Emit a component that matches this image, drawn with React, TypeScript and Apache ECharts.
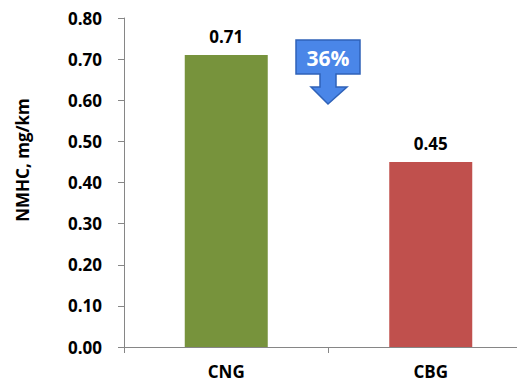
import React, { useEffect, useRef } from "react";
import * as echarts from "echarts";

const categories = ["CNG", "CBG"];
const values = [0.71, 0.45];
const barColors = ["#77933C", "#C0504D"];
const yTicks = { min: 0, max: 0.8, interval: 0.1 };
const axisTitle = "NMHC, mg/km";
const reductionLabel = "36%";

const FONT = "'Open Sans', 'Liberation Sans', sans-serif";

export default function App() {
  const ref = useRef<HTMLDivElement>(null);
  useEffect(() => {
    if (!ref.current) return;
    const chart = echarts.init(ref.current, null, { renderer: "svg" });
    chart.setOption({
      animation: false,
      backgroundColor: "#ffffff",
      grid: { left: 124, top: 18, width: 409, height: 329, containLabel: false, outerBoundsMode: "none" },
      xAxis: {
        type: "category",
        data: categories,
        axisLine: { show: true, lineStyle: { color: "#868686", width: 1 } },
        axisTick: { show: true, alignWithLabel: false, length: 6, lineStyle: { color: "#868686" } },
        axisLabel: { color: "#000", fontWeight: "bold", fontSize: 17, fontFamily: FONT, margin: 16 },
      },
      yAxis: {
        type: "value",
        min: yTicks.min,
        max: yTicks.max,
        interval: yTicks.interval,
        axisLine: { show: true, lineStyle: { color: "#868686", width: 1 } },
        axisTick: { show: true, length: 6, lineStyle: { color: "#868686" } },
        splitLine: { show: false },
        axisLabel: {
          color: "#000",
          fontWeight: "bold",
          fontSize: 17,
          fontFamily: FONT,
          margin: 22,
          formatter: (v: number) => v.toFixed(2),
        },
      },
      series: [
        {
          type: "bar",
          barWidth: 83,
          data: values.map((v, i) => ({ value: v, itemStyle: { color: barColors[i] } })),
          label: {
            show: true,
            position: "top",
            distance: 10,
            color: "#000",
            fontWeight: "bold",
            fontSize: 17,
            fontFamily: FONT,
            formatter: (p: any) => Number(p.value).toFixed(2),
          },
        },
      ],
      graphic: [
        {
          type: "text",
          x: 22,
          y: 160,
          rotation: Math.PI / 2,
          style: {
            text: axisTitle,
            fill: "#000",
            font: `bold 17px ${FONT}`,
            textAlign: "center",
            textVerticalAlign: "middle",
          },
        },
        {
          type: "polygon",
          shape: {
            points: [
              [296, 40], [360, 40], [360, 74], [336, 74], [336, 87], [347, 87],
              [328, 104], [311, 87], [320, 87], [320, 74], [296, 74],
            ],
          },
          style: { fill: "#4A86E8", stroke: "#2F62B8", lineWidth: 1.5 },
        },
        {
          type: "text",
          x: 328,
          y: 58,
          style: {
            text: reductionLabel,
            fill: "#ffffff",
            font: `bold 21px ${FONT}`,
            textAlign: "center",
            textVerticalAlign: "middle",
          },
        },
      ],
    });
    return () => chart.dispose();
  }, []);
  return <div ref={ref} style={{ width: 517, height: 384, position: "fixed", left: 0, top: 0 }} />;
}
